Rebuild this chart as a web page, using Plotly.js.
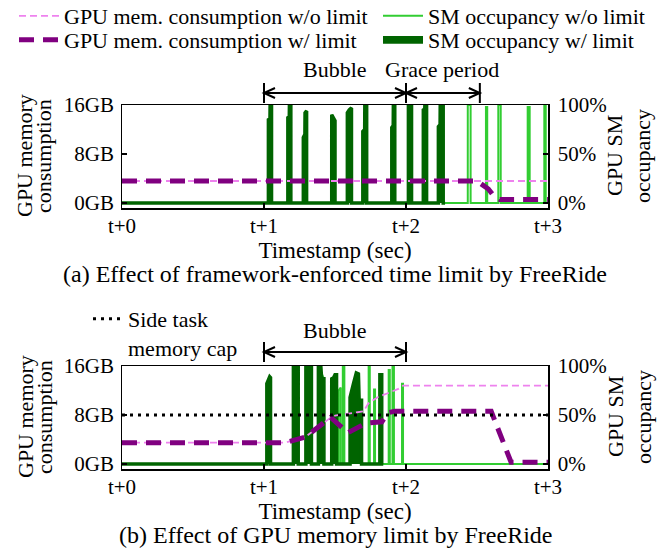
<!DOCTYPE html>
<html>
<head>
<meta charset="utf-8">
<script src="https://cdn.plot.ly/plotly-3.0.1.min.js"></script>
<style>html,body{margin:0;padding:0;background:#fff;}#chart{width:669px;height:548px;}</style>
</head>
<body>
<div id="chart"></div>
<script>
// ---------- data ----------
const xTickVals = [0, 1, 2, 3];
const xTickText = ['t+0', 't+1', 't+2', 't+3'];
const memTickVals = [0, 8, 16];
const memTickText = ['0GB', '8GB', '16GB'];
const smTickVals = [0, 50, 100];
const smTickText = ['0%', '50%', '100%'];

// (a) SM occupancy w/ limit (dark green), seconds / percent
const tSmTopW = [0, 1.031,1.031,1.042,1.043,1.053,1.053, 1.168,1.168,1.178,1.179,1.189,1.189, 1.277,1.277,1.288,1.289,1.3,1.3, 1.477,1.477,1.49,1.5,1.5, 1.587,1.587,1.6,1.616,1.616, 1.696,1.696,1.709,1.71,1.723,1.723, 1.9,1.9,1.91,1.911,1.921,1.921, 2.017,2.017,2.039,2.039, 2.122,2.122,2.132,2.133,2.145,2.145, 2.228,2.228,2.24,2.241,2.262,2.262, 2.275];
const smTopW  = [0, 0,85,86,100,100,0, 0,87,88,100,100,0, 0,67,70,92,94,0, 0,90,87,84,0, 0,92,95,97,0, 0,73,75,100,100,0, 0,77,79,100,100,0, 0,100,100,0, 0,95,96,100,100,0, 0,78,80,100,100,0, 0];
// (a) SM occupancy w/o limit (light green)
const tSmTopNo = [0, 1.031,1.031,1.042,1.043,1.053,1.053, 1.168,1.168,1.178,1.179,1.189,1.189, 1.277,1.277,1.288,1.289,1.3,1.3, 1.477,1.477,1.49,1.5,1.5, 1.587,1.587,1.6,1.616,1.616, 1.696,1.696,1.709,1.71,1.723,1.723, 1.9,1.9,1.91,1.911,1.921,1.921, 2.017,2.017,2.039,2.039, 2.122,2.122,2.132,2.133,2.145,2.145, 2.228,2.228,2.24,2.241,2.262,2.262, 2.435,2.435,2.455,2.455, 2.563,2.563,2.572,2.572, 2.65,2.65,2.667,2.667, 2.857,2.857,2.871,2.871, 2.974,2.974,2.984,2.984, 3.0];
const smTopNo  = [0, 0,85,86,100,100,0, 0,87,88,100,100,0, 0,67,70,92,94,0, 0,90,87,84,0, 0,92,95,97,0, 0,73,75,100,100,0, 0,77,79,100,100,0, 0,100,100,0, 0,95,96,100,100,0, 0,78,80,100,100,0, 0,100,100,0, 0,98,98,0, 0,100,100,0, 0,98,98,0, 0,100,100,0, 0];
// (a) GPU memory, seconds / GB
const tMemTopNo = [0, 3];
const memTopNo  = [3.6, 3.6];
const tMemTopW  = [0, 2.5, 2.58, 2.62, 2.66, 3];
const memTopW   = [3.6, 3.6, 2.3, 1.1, 0.6, 0.6];

// (b) SM occupancy w/ limit (dark green)
const tSmBotW = [0, 1.02,1.02,1.03,1.04,1.046,1.046, 1.207,1.207,1.241,1.241, 1.295,1.295,1.334,1.334, 1.383,1.383,1.4,1.406,1.422,1.422, 1.477,1.477,1.49,1.5,1.511,1.511, 1.606,1.606,1.63,1.65,1.665,1.67,1.687,1.687, 1.816,1.816,1.829,1.829, 1.84];
const smBotW  = [0, 0,82,85,89,88,0, 0,100,100,0, 0,100,100,0, 0,100,100,87,87,0, 0,87,88,91,91,0, 0,68,82,93,92,65,65,0, 0,91,91,0, 0];
// (b) SM occupancy w/o limit (light green)
const tSmBotNo = [0, 1.02,1.02,1.046,1.046, 1.207,1.207,1.241,1.241, 1.295,1.295,1.334,1.334, 1.383,1.383,1.422,1.422, 1.477,1.477,1.511,1.511, 1.525,1.525,1.54,1.54, 1.555,1.555,1.566,1.566, 1.606,1.606,1.687,1.687, 1.737,1.737,1.745,1.745, 1.775,1.775,1.782,1.782, 1.816,1.816,1.829,1.829, 1.878,1.878,1.886,1.886, 1.905,1.905,1.915,1.915, 1.972,1.972,1.979,1.979, 3.0];
const smBotNo  = [0, 0,82,89,0, 0,100,100,0, 0,100,100,0, 0,100,87,0, 0,87,91,0, 0,75,78,0, 0,99,99,0, 0,70,65,0, 0,100,100,0, 0,76,76,0, 0,85,91,0, 0,96,96,0, 0,100,100,0, 0,82,82,0, 0];
// (b) GPU memory
const tMemBotNo = [0,1.15,1.29,1.42,1.47,1.5,1.7,1.735,1.8,1.875,1.95,1.98,3];
const memBotNo  = [3.5,3.5,4.4,6.8,7.6,7.9,8.6,9.9,10.9,11.6,12.3,12.8,12.8];
const tMemBotW  = [0,1.15,1.29,1.42,1.47,1.59,1.68,1.72,1.83,1.875,1.92,2.6,2.74,3];
const memBotW   = [3.5,3.5,4.4,6.8,7.6,5.1,6.3,6.7,6.9,8.4,8.6,8.6,0.3,0.3];
// side task memory cap
const tCap = [0, 3];
const memCap = [8, 8];

// annotation spans (seconds)
const bubbleSpan = [1, 2];
const graceSpan = [2, 2.52];

// ---------- styling ----------
const C_LIGHT = '#32CD32', C_DARK = '#006400', C_PINK = '#EE82EE', C_PURPLE = '#800080';
const FAM = '"Liberation Serif", "Times New Roman", serif';
const F = s => ({family:FAM, size:s, color:'#000'});

const lightLine = {color:C_LIGHT, width:2};
const darkLine = {color:C_DARK, width:3.5};
const pinkLine = {color:C_PINK, width:1.8, dash:'7px,4px'};
const purpleLine = {color:C_PURPLE, width:5, dash:'15px,9px'};

const traces = [
  // (a)
  {x: tSmTopNo, y: smTopNo, xaxis:'x', yaxis:'y', mode:'lines', line:lightLine,
   name:'SM occupancy w/o limit', legend:'legend2'},
  {x: tSmTopW, y: smTopW, xaxis:'x', yaxis:'y', mode:'lines', line:darkLine, fill:'tozeroy', fillcolor:C_DARK,
   name:'SM occupancy w/ limit', legend:'legend4'},
  {x: tMemTopNo, y: memTopNo, xaxis:'x', yaxis:'y2', mode:'lines', line:pinkLine,
   name:'GPU mem. consumption w/o limit', legend:'legend'},
  {x: tMemTopW, y: memTopW, xaxis:'x', yaxis:'y2', mode:'lines', line:purpleLine,
   name:'GPU mem. consumption w/ limit', legend:'legend3'},
  // (b)
  {x: tSmBotNo, y: smBotNo, xaxis:'x2', yaxis:'y3', mode:'lines', line:lightLine, showlegend:false},
  {x: tSmBotW, y: smBotW, xaxis:'x2', yaxis:'y3', mode:'lines', line:darkLine, fill:'tozeroy', fillcolor:C_DARK, showlegend:false},
  {x: tMemBotNo, y: memBotNo, xaxis:'x2', yaxis:'y4', mode:'lines', line:pinkLine, showlegend:false},
  {x: tMemBotW, y: memBotW, xaxis:'x2', yaxis:'y4', mode:'lines', line:purpleLine, showlegend:false},
  {x: tCap, y: memCap, xaxis:'x2', yaxis:'y4', mode:'lines', line:{color:'#000', width:3, dash:'3px,5px'},
   name:'Side task<br>memory cap', legend:'legend5'}
];

// vertical pixel -> paper (plot area 105..469 px), horizontal pixel -> paper
const PT = 105, PB = 469, PH = PB - PT;
const py = p => (PB - p) / PH;
const W = 426, L = 122;
const px = p => (p - L) / W;

function xAxis(anchor){
  return {anchor:anchor, domain:[0,1], range:[0,3], tickvals:xTickVals, ticktext:xTickText,
    ticks:'inside', ticklen:5, tickwidth:1.5, tickcolor:'#000', showline:true, mirror:true, linewidth:1.5, linecolor:'#000',
    showgrid:false, zeroline:false, ticklabelstandoff:-2,
    title:{text:'Timestamp (sec)', standoff:0, font:F(23)}, tickfont:F(21), fixedrange:true};
}
function smAxis(anchor, domain){
  return {anchor:anchor, domain:domain, side:'right', range:[-5,100], tickvals:smTickVals, ticktext:smTickText,
    ticks:'inside', ticklen:5, tickwidth:1.5, tickcolor:'#000', showline:true, mirror:true, linewidth:1.5, linecolor:'#000',
    showgrid:false, zeroline:false, tickfont:F(21), ticklabelstandoff:4};
}
function memAxis(over, anchor){
  return {overlaying:over, anchor:anchor, side:'left', range:[-0.8,16], tickvals:memTickVals, ticktext:memTickText,
    ticks:'inside', ticklen:5, tickwidth:1.5, tickcolor:'#000', showline:false,
    showgrid:false, zeroline:false, tickfont:F(21), ticklabelstandoff:7};
}

// arrows (bars + open chevrons), x in data units, y in paper units
const shapes = [];
function arrow(x0, x1, yp, barTop, barBot, xaxis){
  const ln = {color:'#000', width:2};
  shapes.push({type:'line', xref:xaxis, yref:'paper', x0:x0, x1:x1, y0:py(yp), y1:py(yp), line:ln});
  [x0, x1].forEach(xx => shapes.push({type:'line', xref:xaxis, yref:'paper', x0:xx, x1:xx, y0:py(barTop), y1:py(barBot), line:ln}));
  const dx = 11/142, dyT = py(yp-5), dyB = py(yp+5), yc = py(yp);
  shapes.push({type:'path', xref:xaxis, yref:'paper', path:`M ${x0+dx} ${dyT} L ${x0} ${yc} L ${x0+dx} ${dyB}`, line:ln});
  shapes.push({type:'path', xref:xaxis, yref:'paper', path:`M ${x1-dx} ${dyT} L ${x1} ${yc} L ${x1-dx} ${dyB}`, line:ln});
}
arrow(bubbleSpan[0], bubbleSpan[1], 93, 83, 103, 'x');
arrow(graceSpan[0], graceSpan[1], 93, 83, 103, 'x');
arrow(bubbleSpan[0], bubbleSpan[1], 352, 342, 362, 'x2');

const txt = (xref, x, y, t, s) => ({xref:xref, yref:'paper', x:x, y:py(y), text:t, showarrow:false, font:F(s), xanchor:'center', yanchor:'middle'});
const rot = (x, y, t) => ({xref:'paper', yref:'paper', x:px(x), y:py(y), text:t, textangle:-90, showarrow:false, font:F(22), xanchor:'center', yanchor:'middle'});
const annotations = [
  txt('x', (bubbleSpan[0]+bubbleSpan[1])/2, 70, 'Bubble', 22),
  txt('x', 2.255, 70, 'Grace period', 22),
  txt('x2', (bubbleSpan[0]+bubbleSpan[1])/2, 330, 'Bubble', 22),
  txt('paper', 0.5, 274, '(a) Effect of framework-enforced time limit by FreeRide', 24),
  txt('paper', 0.5, 535, '(b) Effect of GPU memory limit by FreeRide', 24),
  rot(25, 156, 'GPU memory'), rot(44, 156, 'consumption'),
  rot(615, 156, 'GPU SM'), rot(643, 156, 'occupancy'),
  rot(25, 417, 'GPU memory'), rot(44, 417, 'consumption'),
  rot(615, 417, 'GPU SM'), rot(643, 417, 'occupancy')
];

const leg = (xp, yp) => ({orientation:'h', xanchor:'left', yanchor:'middle', x:px(xp), y:py(yp),
  bgcolor:'rgba(0,0,0,0)', borderwidth:0, font:F(22), itemwidth:40});

const layout = {
  width:669, height:548,
  margin:{l:L, r:669-L-W, t:PT, b:548-PB, pad:0, autoexpand:false},
  paper_bgcolor:'#fff', plot_bgcolor:'rgba(0,0,0,0)',
  font:F(21),
  showlegend:true,
  xaxis: xAxis('y'),
  yaxis: smAxis('x', [py(208), 1]),
  yaxis2: memAxis('y', 'x'),
  xaxis2: xAxis('y3'),
  yaxis3: smAxis('x2', [0, py(366)]),
  yaxis4: memAxis('y3', 'x2'),
  legend:  leg(14, 16),
  legend2: leg(378, 16),
  legend3: leg(14, 40),
  legend4: leg(378, 40),
  legend5: Object.assign(leg(88, 319), {orientation:'v', valign:'top', itemwidth:30, yanchor:'top', y:py(298)}),
  shapes: shapes,
  annotations: annotations
};

Plotly.newPlot('chart', traces, layout, {displayModeBar:false, staticPlot:true});
</script>
</body>
</html>
